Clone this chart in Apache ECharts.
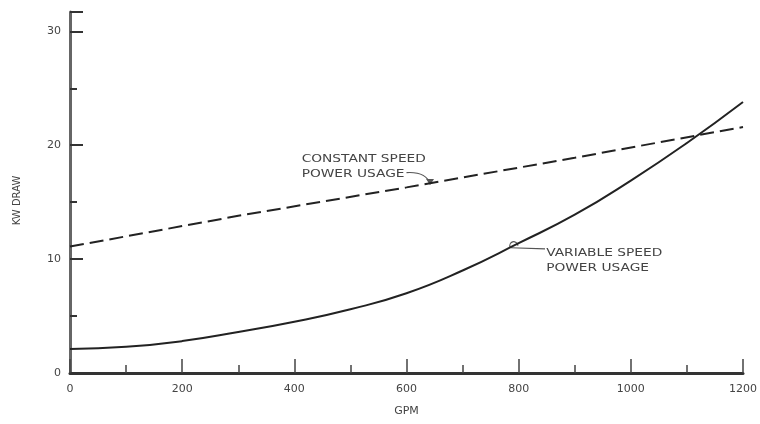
<!DOCTYPE html>
<html>
<head>
<meta charset="utf-8">
<script src="https://cdn.jsdelivr.net/npm/echarts@6/dist/echarts.min.js"></script>
<style>
html,body{margin:0;padding:0;background:#fff;}
#c{width:760px;height:424px;}
</style>
</head>
<body>
<div id="c"></div>
<script>
// ---- data ----
const variableGpm = [0, 100, 200, 300, 400, 500, 600, 700, 800, 900, 1000, 1100, 1200];
const variableKw = [2.1, 2.3, 2.8, 3.6, 4.5, 5.6, 7.0, 9.0, 11.4, 13.9, 16.9, 20.2, 23.8];
const constantGpm = [0, 300, 600, 900, 1200];
const constantKw = [11.1, 13.8, 16.3, 18.9, 21.6];
const xTicks = [0, 200, 400, 600, 800, 1000, 1200];
const yTicks = [0, 10, 20, 30];
const constantLabel = ['CONSTANT SPEED', 'POWER USAGE'];
const variableLabel = ['VARIABLE SPEED', 'POWER USAGE'];
// annotation anchors in data coordinates [GPM, kW]
const constantLabelAt = [413, 19.4];
const constantArrow = [[600, 17.6], [635, 17.7], [642, 16.6]];
const variableLabelAt = [849, 11.2];
const variableLeader = [[847, 10.9], [786, 11.0]];

const pairs = (xs, ys) => xs.map((x, i) => [x, ys[i]]);
const textColor = '#444';
const font = 'DejaVu Sans';

const chart = echarts.init(document.getElementById('c'), null, {renderer: 'canvas'});
chart.setOption({
  animation: false,
  backgroundColor: '#fff',
  grid: {left: 70, right: 12, top: 12, bottom: 51, containLabel: false},
  xAxis: {
    type: 'value', min: 0, max: 1200, interval: 200,
    name: 'GPM', nameLocation: 'middle', nameGap: 33,
    nameTextStyle: {color: textColor, fontFamily: font, fontSize: 11},
    axisLine: {show: true, onZero: false, lineStyle: {color: '#333', width: 3}},
    axisTick: {show: true, inside: true, length: 14, lineStyle: {color: '#444', width: 1.5}},
    minorTick: {show: true, splitNumber: 2, length: 8, lineStyle: {color: '#444', width: 1.5}},
    axisLabel: {color: textColor, fontFamily: font, fontSize: 11, margin: 11,
      formatter: v => xTicks.includes(v) ? String(v) : ''},
    splitLine: {show: false}, minorSplitLine: {show: false}
  },
  yAxis: {
    type: 'value', min: 0, max: 31.7, interval: 10,
    name: 'KW DRAW', nameLocation: 'middle', nameGap: 48, nameRotate: 90,
    nameTextStyle: {color: textColor, fontFamily: font, fontSize: 10, padding: [0, 16, 0, 0]},
    axisLine: {show: true, onZero: false, lineStyle: {color: '#666', width: 3}},
    axisTick: {show: true, inside: true, length: 13, lineStyle: {color: '#333', width: 2}},
    minorTick: {show: true, splitNumber: 2, length: 7, lineStyle: {color: '#333', width: 2}},
    axisLabel: {color: textColor, fontFamily: font, fontSize: 11, margin: 9,
      formatter: v => yTicks.includes(v) ? String(v) : ''},
    splitLine: {show: false}, minorSplitLine: {show: false}
  },
  series: [
    {
      name: 'Constant speed power usage', type: 'line',
      data: pairs(constantGpm, constantKw),
      showSymbol: false, symbol: 'none',
      lineStyle: {color: '#222', width: 2, type: [14, 6]}
    },
    {
      name: 'Variable speed power usage', type: 'line',
      data: pairs(variableGpm, variableKw),
      smooth: true, showSymbol: false, symbol: 'none',
      lineStyle: {color: '#222', width: 2}
    }
  ]
});

const px = p => chart.convertToPixel({gridIndex: 0}, p);
const cl = px(constantLabelAt);
const ca = constantArrow.map(px);
const vl = px(variableLabelAt);
const vd = variableLeader.map(px);
const textStyle = {fill: textColor, font: '11px "' + font + '"', lineHeight: 15};
chart.setOption({
  graphic: [
    {type: 'text', x: cl[0], y: cl[1], scaleX: 1.25, style: Object.assign({text: constantLabel.join('\n')}, textStyle)},
    {type: 'bezierCurve', shape: {x1: ca[0][0], y1: ca[0][1], cpx1: ca[1][0], cpy1: ca[1][1], x2: ca[2][0], y2: ca[2][1]},
      style: {stroke: '#555', lineWidth: 1.2, fill: null}},
    {type: 'polygon', shape: {points: [[ca[2][0] - 4, ca[2][1] - 5], [ca[2][0] + 4, ca[2][1] - 5], [ca[2][0], ca[2][1] + 1]]},
      style: {fill: '#555'}},
    {type: 'text', x: vl[0], y: vl[1], scaleX: 1.25, style: Object.assign({text: variableLabel.join('\n')}, textStyle)},
    {type: 'line', shape: {x1: vd[0][0], y1: vd[0][1], x2: vd[1][0], y2: vd[1][1]},
      style: {stroke: '#555', lineWidth: 1.2}},
    {type: 'arc', shape: {cx: vd[1][0] + 3, cy: vd[1][1] - 2, r: 4, startAngle: Math.PI * 0.9, endAngle: Math.PI * 2.0},
      style: {stroke: '#555', lineWidth: 1.2, fill: null}}
  ]
});
</script>
</body>
</html>
